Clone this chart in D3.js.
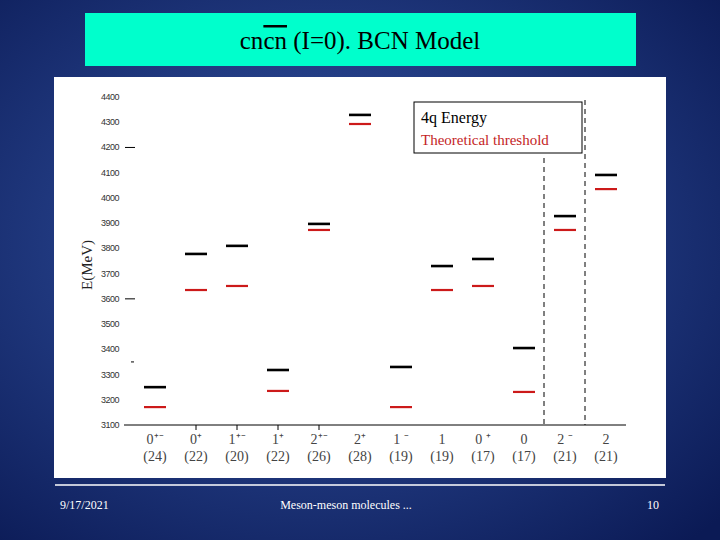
<!DOCTYPE html>
<html><head><meta charset="utf-8">
<script src="https://cdn.jsdelivr.net/npm/d3@7"></script>
<style>body{margin:0}svg{display:block}</style>
</head><body>
<svg width="720" height="540"></svg>
<script>
var quantumNumbers = ["0\u207A\u207B","0\u207A","1\u207A\u207B","1\u207A","2\u207A\u207B","2\u207A","1 \u207B","1","0 \u207A","0","2 \u207B","2"],
	channels = ["(24)","(22)","(20)","(22)","(26)","(28)","(19)","(19)","(17)","(17)","(21)","(21)"],
	energy4q = [3250,3778,3810,3318,3897,4329,3330,3730,3758,3405,3928,4091],
	threshold = [3171,3635,3651,3235,3873,4293,3171,3635,3651,3231,3873,4035],
	yTicks = [3100,3200,3300,3400,3500,3600,3700,3800,3900,4000,4100,4200,4300,4400];

var svg = d3.select("svg");
var defs = svg.append("defs");
var grad = defs.append("radialGradient").attr("id", "bg").attr("cx", "45%").attr("cy", "45%").attr("r", "75%");
grad.append("stop").attr("offset", "0%").attr("stop-color", "#3557a8");
grad.append("stop").attr("offset", "100%").attr("stop-color", "#0b1a55");
svg.append("rect").attr("width", 720).attr("height", 540).attr("fill", "url(#bg)");

// title box
svg.append("rect").attr("x", 85).attr("y", 13).attr("width", 551).attr("height", 53).attr("fill", "#00ffcc");
var title = svg.append("text").attr("x", 360).attr("y", 49).attr("text-anchor", "middle")
	.attr("font-family", "Liberation Serif, serif").attr("font-size", 25).attr("fill", "#000");
title.append("tspan").text("cn");
title.append("tspan").attr("text-decoration", "overline").text("cn");
title.append("tspan").text(" (I=0). BCN Model");

// chart panel
svg.append("rect").attr("x", 54).attr("y", 77).attr("width", 612).attr("height", 401).attr("fill", "#fff");

var y = d3.scaleLinear().domain([3100, 4400]).range([425, 97]);
var x = d3.scalePoint().domain(d3.range(quantumNumbers.length)).range([155, 606]);

var g = svg.append("g");
g.selectAll(".ytick").data(yTicks).enter().append("text")
	.attr("x", 119).attr("y", function (d) { return y(d) + 3; })
	.attr("text-anchor", "end").attr("font-family", "Liberation Sans, sans-serif")
	.attr("font-size", 9).attr("fill", "#333").attr("letter-spacing", -0.5).text(function (d) { return d; });
// stray marks near the axis
[4200, 3600].forEach(function (v) {
	g.append("line").attr("x1", 125).attr("x2", 135).attr("y1", y(v)).attr("y2", y(v)).attr("stroke", "#000");
});
g.append("line").attr("x1", 131).attr("x2", 134).attr("y1", y(3350)).attr("y2", y(3350)).attr("stroke", "#000");

g.append("text").attr("transform", "translate(92,265) rotate(-90)").attr("text-anchor", "middle")
	.attr("font-family", "Liberation Serif, serif").attr("font-size", 15).attr("fill", "#222").text("E(MeV)");

// x axis
g.append("line").attr("x1", 124).attr("x2", 626).attr("y1", y(3100)).attr("y2", y(3100)).attr("stroke", "#000");
g.selectAll(".xtick").data(d3.range(quantumNumbers.length).slice(1, 5)).enter().append("line")
	.attr("x1", function (d) { return x(d); }).attr("x2", function (d) { return x(d); })
	.attr("y1", y(3100)).attr("y2", y(3100) + 5).attr("stroke", "#000");

var lab = g.selectAll(".xl").data(quantumNumbers).enter().append("text")
	.attr("text-anchor", "middle").attr("font-family", "Liberation Serif, serif").attr("font-size", 14).attr("fill", "#444");
lab.append("tspan").attr("x", function (d, i) { return x(i); }).attr("y", 444).text(function (d) { return d; });
lab.append("tspan").attr("x", function (d, i) { return x(i); }).attr("y", 461).text(function (d, i) { return channels[i]; });

// dashed separators
[[544, 158], [585, 100]].forEach(function (p) {
	g.append("line").attr("x1", p[0]).attr("x2", p[0]).attr("y1", p[1]).attr("y2", y(3100))
		.attr("stroke", "#000").attr("stroke-dasharray", "5,4");
});

g.selectAll(".th").data(threshold).enter().append("line")
	.attr("x1", function (d, i) { return x(i) - 11; }).attr("x2", function (d, i) { return x(i) + 11; })
	.attr("y1", function (d) { return y(d); }).attr("y2", function (d) { return y(d); })
	.attr("stroke", "#cc1a1a").attr("stroke-width", 2.2);
g.selectAll(".e4").data(energy4q).enter().append("line")
	.attr("x1", function (d, i) { return x(i) - 11; }).attr("x2", function (d, i) { return x(i) + 11; })
	.attr("y1", function (d) { return y(d); }).attr("y2", function (d) { return y(d); })
	.attr("stroke", "#000").attr("stroke-width", 2.6);

// legend
svg.append("rect").attr("x", 414).attr("y", 102).attr("width", 168).attr("height", 51)
	.attr("fill", "#fff").attr("stroke", "#000");
svg.append("text").attr("x", 421).attr("y", 123).attr("font-family", "Liberation Serif, serif")
	.attr("font-size", 16).attr("fill", "#000").text("4q Energy");
svg.append("text").attr("x", 421).attr("y", 145).attr("font-family", "Liberation Serif, serif")
	.attr("font-size", 15).attr("fill", "#c41e1e").text("Theoretical threshold");

// footer
svg.append("line").attr("x1", 55).attr("x2", 665).attr("y1", 485).attr("y2", 485).attr("stroke", "#fff").attr("stroke-width", 1.5);
var foot = [["9/17/2021", 60, "start"], ["Meson-meson molecules ...", 346, "middle"], ["10", 659, "end"]];
foot.forEach(function (f) {
	svg.append("text").attr("x", f[1]).attr("y", 509).attr("text-anchor", f[2])
		.attr("font-family", "Liberation Serif, serif").attr("font-size", 12).attr("fill", "#fff").text(f[0]);
});
</script>
</body></html>
